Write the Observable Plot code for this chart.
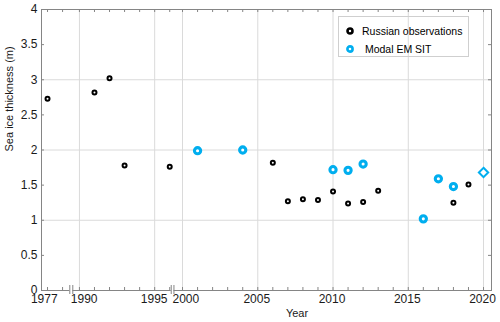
<!DOCTYPE html>
<html><head><meta charset="utf-8">
<script src="https://cdn.jsdelivr.net/npm/d3@7"></script>
<script src="https://cdn.jsdelivr.net/npm/@observablehq/plot@0.6"></script>
<style>
body{margin:0;background:#fff;}
#wrap{position:relative;width:500px;height:322px;font-family:"Liberation Sans",Arial,sans-serif;}
#wrap svg{display:block;}
.legend{position:absolute;left:338px;top:16px;width:129px;height:39px;border:1px solid #cfcfcf;font-size:10.5px;color:#000;}
.legend .row{position:absolute;white-space:nowrap;line-height:12px;}
.legend svg{position:absolute;}
</style></head><body><div id="wrap"></div>
<script>
// ---- data ----
const russianYears = [1977, 1991, 1992, 1993, 1996, 2006, 2007, 2008, 2009, 2010, 2011, 2012, 2013, 2018, 2019];
const russianSIT   = [2.73, 2.82, 3.02, 1.78, 1.76, 1.82, 1.27, 1.30, 1.29, 1.41, 1.24, 1.26, 1.42, 1.25, 1.51];
const emYears = [2001, 2004, 2010, 2011, 2012, 2016, 2017, 2018];
const emSIT   = [1.99, 2.00, 1.72, 1.71, 1.80, 1.02, 1.59, 1.48];
const em2020Years = [2020];
const em2020SIT   = [1.68];
const xTickYears  = [1977, 1990, 1995, 2000, 2005, 2010, 2015, 2020];
const xTickLabels = ["1977", "1990", "1995", "2000", "2005", "2010", "2015", "2020"];
const yTicks = [0, 0.5, 1, 1.5, 2, 2.5, 3, 3.5, 4];
const yGrid = [1, 2, 3];
const seriesNames = ["Russian observations", "Modal EM SIT"];
const xLabel = "Year";
const yLabel = "Sea ice thickness (m)";

// ---- broken-axis layout (compressed year coordinate) ----
const segments = [
  {from: 1977, to: 1978, offset: 14.03},
  {from: 1990, to: 1996, offset: 3.15},
  {from: 2000, to: 2020, offset: 0}
];
const pos = y => y + segments.find(s => y <= s.to + 0.9).offset;
const minorYears = segments.flatMap(s => d3.range(s.from, s.to + 1));
const breaks = [[1992.51, 1992.71], [1999.25, 1999.43]];

const W = 500, H = 322, mL = 41, mR = 9, mT = 9, mB = 32;
const pW = W - mL - mR, pH = H - mT - mB;
const axisColor = "#858585", gridColor = "#dadada";
const blue = "#00AEEF";
const font = "'Liberation Sans', Arial, sans-serif";

const russian = russianYears.map((y, i) => ({x: pos(y), v: russianSIT[i]}));
const em = emYears.map((y, i) => ({x: pos(y), v: emSIT[i]}));
const em2020 = em2020Years.map((y, i) => ({x: pos(y), v: em2020SIT[i]}));

const labelDx = {"1977": -3.3, "1990": 4.7, "1995": -0.5, "2000": 3.3};

const plot = Plot.plot({
  width: W, height: H,
  marginLeft: mL, marginRight: mR, marginTop: mT, marginBottom: mB,
  style: {fontFamily: font, fontSize: "12px", color: "#1a1a1a", background: "white", overflow: "visible"},
  x: {domain: [1990.63, 2020.53], axis: null},
  y: {domain: [0, 4], axis: null},
  marks: [
    Plot.gridX(xTickYears.filter(y => y !== 1977).map(pos), {stroke: gridColor, strokeOpacity: 1}),
    Plot.gridY(yGrid, {stroke: gridColor, strokeOpacity: 1}),
    Plot.frame({stroke: axisColor}),
    Plot.tickX(minorYears.map(pos), {x: d => d, insetTop: pH - 3, stroke: axisColor}),
    Plot.tickX(minorYears.map(pos), {x: d => d, insetBottom: pH - 3, stroke: axisColor}),
    Plot.tickY(yTicks, {y: d => d, insetLeft: pW - 3, stroke: axisColor}),
    Plot.tickY(yTicks, {y: d => d, insetRight: pW - 3, stroke: axisColor}),
    // axis breaks
    Plot.rect(breaks, {x1: d => d[0], x2: d => d[1], y1: -0.025, y2: 0.025, fill: "white", clip: false}),
    Plot.ruleX(breaks.flat(), {x: d => d, y1: -0.057, y2: 0.071, stroke: axisColor, strokeWidth: 1, clip: false}),
    // y tick labels
    Plot.text(yTicks, {y: d => d, text: d => String(d), frameAnchor: "left", textAnchor: "end", dx: -4, fontSize: 12, fill: "#1a1a1a"}),
    // x tick labels
    ...xTickYears.map((y, i) => Plot.text([y], {
      x: d => pos(d), text: () => xTickLabels[i], frameAnchor: "bottom", lineAnchor: "top",
      dy: 4, dx: labelDx[xTickLabels[i]] ?? -1, fontSize: 12, fill: "#1a1a1a"
    })),
    // axis titles
    Plot.text([xLabel], {frameAnchor: "bottom", lineAnchor: "top", dx: 30.5, dy: 19, fontSize: 11, fill: "#1a1a1a"}),
    Plot.text([yLabel], {frameAnchor: "left", rotate: -90, dx: -32.5, dy: 1.5, fontSize: 11, fill: "#1a1a1a"}),
    // data
    Plot.dot(russian, {x: "x", y: "v", r: 2, stroke: "black", strokeWidth: 2, fill: "white"}),
    Plot.dot(em, {x: "x", y: "v", r: 3.1, stroke: blue, strokeWidth: 3.1, fill: "white"}),
    Plot.dot(em2020, {x: "x", y: "v", symbol: "diamond2", r: 4.2, stroke: blue, strokeWidth: 2, fill: "white"})
  ]
});

const wrap = document.getElementById("wrap");
wrap.appendChild(plot);

// legend (inside the axes, top-right)
const lg = document.createElement("div");
lg.className = "legend";
const rows = [
  {name: seriesNames[0], color: "black", cy: 13.5, tx: 23, r: 2.5, sw: 2.6},
  {name: " " + seriesNames[1], color: blue, cy: 31.5, tx: 23, r: 2.6, sw: 2.6}
];
rows.forEach(d => {
  const s = d3.create("svg").attr("width", 12).attr("height", 12)
    .style("left", "4.5px").style("top", (d.cy - 6) + "px");
  s.append("circle").attr("cx", 6).attr("cy", 6).attr("r", d.r)
    .attr("fill", "white").attr("stroke", d.color).attr("stroke-width", d.sw);
  lg.appendChild(s.node());
  const t = document.createElement("div");
  t.className = "row";
  t.style.left = d.tx + "px";
  t.style.top = (d.cy - 6) + "px";
  t.style.whiteSpace = "pre";
  t.textContent = d.name;
  lg.appendChild(t);
});
wrap.appendChild(lg);
</script>
</body></html>
